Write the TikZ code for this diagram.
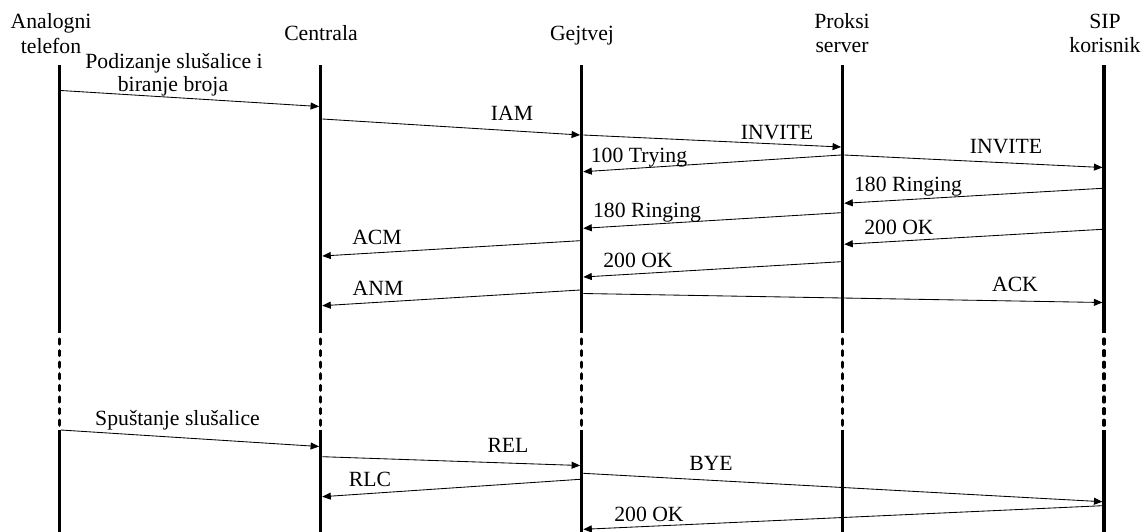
\documentclass[tikz,border=0pt]{standalone}
\usepackage{fontspec}
\setmainfont{Liberation Serif}
\usetikzlibrary{arrows.meta}
\begin{document}
\begin{tikzpicture}[x=1pt,y=-1pt,
  lifeline/.style={line width=3.2pt},
  lifedots/.style={line width=3.2pt,line cap=round,dash pattern=on 5pt off 6.6pt},
  msg/.style={line width=0.85pt,-{Triangle[length=8.5pt,width=7pt]}},
  lbl/.style={anchor=base,inner sep=0pt,font=\fontsize{21.7}{24.5}\selectfont},
  hdr/.style={anchor=base,inner sep=0pt,align=center,font=\fontsize{21.7}{24.5}\selectfont}]
\useasboundingbox (0,0) rectangle (1143,531);
% lifeline x positions
\def\La{59.3}\def\Lb{320.7}\def\Lc{581.7}\def\Ld{842.7}\def\Le{1104}
% headers (base anchor = baseline of the last line)
\node[hdr] (hA) at (51,53) {Analogni\\telefon};
\node[hdr] (hB) at (321,40) {Centrala};
\node[hdr] (hC) at (582,40.5) {Gejtvej};
\node[hdr] (hD) at (842,52.7) {Proksi\\server};
\node[hdr] (hE) at (1105,52.5) {SIP\\korisnik};
% lifelines
\foreach \n/\x in {A/\La,B/\Lb,C/\Lc,D/\Ld,E/\Le}{
  \coordinate (t\n) at (\x,65);
  \coordinate (m\n) at (\x,333);
  \coordinate (d\n) at (\x,339);
  \coordinate (e\n) at (\x,426);
  \coordinate (s\n) at (\x,429.5);
  \coordinate (b\n) at (\x,533);
  \draw[lifeline] (t\n) -- (m\n);
  \draw[lifedots] (d\n) -- (e\n);
  \draw[lifeline] (s\n) -- (b\n);
}
% message end points
\def\h{1.6}
\coordinate (p1s) at (\La+\h,90.5);  \coordinate (p1e) at (\Lb-\h,106.5);
\coordinate (p2s) at (\Lb+\h,119);   \coordinate (p2e) at (\Lc-\h,135);
\coordinate (p3s) at (\Lc+\h,135);   \coordinate (p3e) at (\Ld-\h,147);
\coordinate (p4s) at (\Ld-\h,155);   \coordinate (p4e) at (\Lc+\h,171.7);
\coordinate (p5s) at (\Ld+\h,155);   \coordinate (p5e) at (\Le-\h,167.5);
\coordinate (p6s) at (\Le-\h,188.3); \coordinate (p6e) at (\Ld+\h,203.3);
\coordinate (p7s) at (\Ld-\h,212.7); \coordinate (p7e) at (\Lc+\h,228.3);
\coordinate (p8s) at (\Lc-\h,240.7); \coordinate (p8e) at (\Lb+\h,256);
\coordinate (p9s) at (\Le-\h,229.3); \coordinate (p9e) at (\Ld+\h,244.3);
\coordinate (p10s) at (\Ld-\h,261.7); \coordinate (p10e) at (\Lc+\h,277);
\coordinate (p11s) at (\Lc-\h,290);   \coordinate (p11e) at (\Lb+\h,305.7);
\coordinate (p12s) at (\Lc+\h,293.5); \coordinate (p12e) at (\Le-\h,302.5);
\coordinate (p13s) at (\La+\h,430);   \coordinate (p13e) at (\Lb-\h,446.5);
\coordinate (p14s) at (\Lb+\h,456.7); \coordinate (p14e) at (\Lc-\h,465.5);
\coordinate (p15s) at (\Lc-\h,479.3); \coordinate (p15e) at (\Lb+\h,496.7);
\coordinate (p16s) at (\Lc+\h,473.3); \coordinate (p16e) at (\Le-\h,501.7);
\coordinate (p17s) at (\Le-\h,505.7); \coordinate (p17e) at (\Lc+\h,529.3);
\foreach \i in {1,...,17}{\draw[msg] (p\i s) -- (p\i e);}
% labels
\node[lbl] (l1a) at (174,68) {Podizanje slušalice i};
\node[lbl] (l1b) at (173,91) {biranje broja};
\node[lbl] (l2) at (512,120.5) {IAM};
\node[lbl] (l3) at (777,139) {INVITE};
\node[lbl] (l4) at (639,162) {100 Trying};
\node[lbl] (l5) at (1006,153) {INVITE};
\node[lbl] (l6) at (908,191) {180 Ringing};
\node[lbl] (l7) at (647,217) {180 Ringing};
\node[lbl] (l8) at (377,244) {ACM};
\node[lbl] (l9) at (899,234) {200 OK};
\node[lbl] (l10) at (638,267) {200 OK};
\node[lbl] (l11) at (378,295) {ANM};
\node[lbl] (l12) at (1015,291) {ACK};
\node[lbl] (l13) at (177.5,425) {Spuštanje slušalice};
\node[lbl] (l14) at (508,452.7) {REL};
\node[lbl] (l15) at (370,486.7) {RLC};
\node[lbl] (l16) at (711,470.5) {BYE};
\node[lbl] (l17) at (649,521.7) {200 OK};
\end{tikzpicture}
\end{document}
